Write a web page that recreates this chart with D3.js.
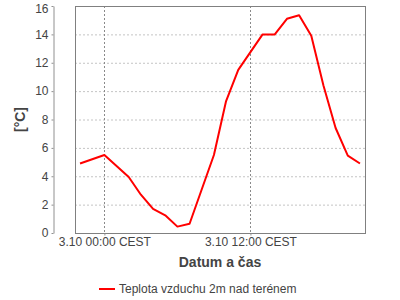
<!DOCTYPE html>
<html>
<head>
<meta charset="utf-8">
<script src="https://cdn.jsdelivr.net/npm/d3@7"></script>
<style>
	body { margin: 0; background: #fff; }
	svg { font-family: "Liberation Sans", Arial, sans-serif; }
</style>
</head>
<body>
<svg width="400" height="300"></svg>
<script>
// measurement times (local, CEST) and air temperature 2m above ground
const times = [
	"2013-10-02 22:00", "2013-10-03 00:00", "2013-10-03 02:00", "2013-10-03 03:00",
	"2013-10-03 04:00", "2013-10-03 05:00", "2013-10-03 06:00", "2013-10-03 07:00",
	"2013-10-03 09:00", "2013-10-03 10:00", "2013-10-03 11:00", "2013-10-03 13:00",
	"2013-10-03 14:00", "2013-10-03 15:00", "2013-10-03 16:00", "2013-10-03 17:00",
	"2013-10-03 18:00", "2013-10-03 19:00", "2013-10-03 20:00", "2013-10-03 21:00"
];
const temps = [
	4.9, 5.5, 3.95, 2.7, 1.7, 1.25, 0.45, 0.65,
	5.5, 9.3, 11.5, 14.0, 14.0, 15.1, 15.35, 13.9,
	10.4, 7.4, 5.45, 4.9
];
const xTicks = ["2013-10-03 00:00", "2013-10-03 12:00"];
const yTicks = [0, 2, 4, 6, 8, 10, 12, 14, 16];
const seriesName = "Teplota vzduchu 2m nad terénem";

const parse = d3.timeParse("%Y-%m-%d %H:%M");
const data = times.map((t, i) => ({ t: parse(t), v: temps[i] }));

const svg = d3.select("svg");
const plot = { left: 75, top: 6, right: 365, bottom: 233 };

let ext = d3.extent(data, (d) => d.t);
let pad = (ext[1] - ext[0]) * 0.018;
const x = d3.scaleTime()
	.domain([new Date(+ext[0] - pad), new Date(+ext[1] + pad)])
	.range([plot.left, plot.right]);
const y = d3.scaleLinear().domain([0, 16]).range([plot.bottom, plot.top]);

// horizontal grid
svg.append("g")
	.selectAll("line")
	.data(yTicks)
	.join("line")
	.attr("x1", plot.left)
	.attr("x2", plot.right)
	.attr("y1", (d) => y(d) + 0.5)
	.attr("y2", (d) => y(d) + 0.5)
	.attr("stroke", "#c4c4c4")
	.attr("stroke-dasharray", "2,2");

// vertical grid
svg.append("g")
	.selectAll("line")
	.data(xTicks.map(parse))
	.join("line")
	.attr("x1", (d) => Math.round(x(d)) + 0.5)
	.attr("x2", (d) => Math.round(x(d)) + 0.5)
	.attr("y1", plot.top)
	.attr("y2", plot.bottom)
	.attr("stroke", "#8a8a8a")
	.attr("stroke-dasharray", "2,2");

// plot border
svg.append("rect")
	.attr("x", plot.left + 0.5)
	.attr("y", plot.top + 0.5)
	.attr("width", plot.right - plot.left)
	.attr("height", plot.bottom - plot.top)
	.attr("fill", "none")
	.attr("stroke", "#808080");

// y axis (offset from plot)
svg.append("g")
	.attr("transform", "translate(53.5,0)")
	.call(d3.axisLeft(y).tickValues(yTicks).tickSize(2).tickSizeOuter(0).tickPadding(3))
	.call((g) => g.select(".domain").attr("stroke", "#909090"))
	.call((g) => g.selectAll(".tick line").attr("stroke", "#909090"))
	.call((g) =>
		g.selectAll(".tick text")
			.attr("fill", "#444")
			.attr("font-size", "12px")
			.attr("font-family", "Liberation Sans, Arial, sans-serif")
			// keep the top label inside the picture
			.attr("y", (d) => (d === 16 ? 3 : 0))
	);

// x axis
const fmt = d3.timeFormat("%-d.%-m %H:%M");
svg.append("g")
	.attr("transform", "translate(0," + (plot.bottom + 0.5) + ")")
	.call(
		d3.axisBottom(x)
			.tickValues(xTicks.map(parse))
			.tickFormat((d) => fmt(d) + " CEST")
			.tickSize(2)
			.tickSizeOuter(0)
			.tickPadding(2)
	)
	.call((g) => g.select(".domain").remove())
	.call((g) => g.selectAll(".tick line").attr("stroke", "#909090"))
	.call((g) =>
		g.selectAll(".tick text")
			.attr("fill", "#444")
			.attr("font-size", "12px")
			.attr("font-family", "Liberation Sans, Arial, sans-serif")
	);

// series line
svg.append("path")
	.datum(data)
	.attr("fill", "none")
	.attr("stroke", "#ff0000")
	.attr("stroke-width", 2)
	.attr("stroke-linejoin", "round")
	.attr("d", d3.line().x((d) => x(d.t)).y((d) => y(d.v)));

// axis titles
svg.append("text")
	.attr("transform", "translate(25," + (plot.top + plot.bottom) / 2 + ") rotate(-90)")
	.attr("text-anchor", "middle")
	.attr("font-size", "14px")
	.attr("font-weight", "bold")
	.attr("fill", "#444")
	.text("[°C]");

svg.append("text")
	.attr("x", (plot.left + plot.right) / 2)
	.attr("y", 267)
	.attr("text-anchor", "middle")
	.attr("font-size", "14px")
	.attr("font-weight", "bold")
	.attr("fill", "#444")
	.text("Datum a čas");

// legend
let legend = svg.append("g").attr("transform", "translate(99,289)");
legend.append("line")
	.attr("x1", 0)
	.attr("x2", 16)
	.attr("stroke", "#ff0000")
	.attr("stroke-width", 2);
legend.append("text")
	.attr("x", 20)
	.attr("y", 4)
	.attr("font-size", "12px")
	.attr("fill", "#444")
	.text(seriesName);
</script>
</body>
</html>
